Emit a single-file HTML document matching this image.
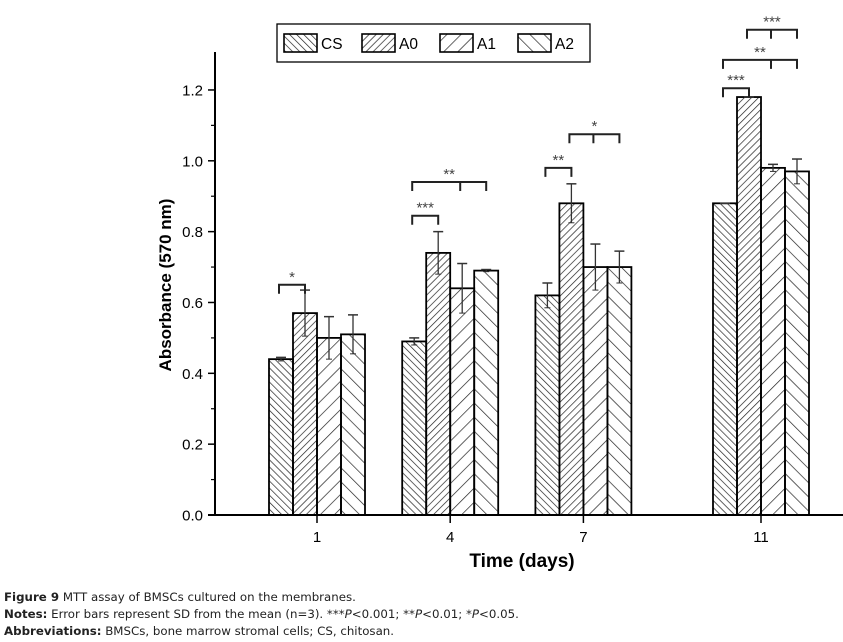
<!DOCTYPE html>
<html><head><meta charset="utf-8"><style>
body{margin:0;background:#fff;}
svg{display:block;}
svg text{font-family:"Liberation Sans",Arial,sans-serif;}
svg text.cap{font-family:"DejaVu Sans","Liberation Sans",sans-serif;font-size:11.8px;fill:#222;}
</style></head><body>
<svg id="chart" width="843" height="642" viewBox="0 0 843 642">
<defs>
<pattern id="pCS" patternUnits="userSpaceOnUse" width="5" height="5" patternTransform="rotate(-45)"><line x1="0" y1="0" x2="0" y2="5" stroke="#222" stroke-width="1.4"/></pattern>
<pattern id="pA0" patternUnits="userSpaceOnUse" width="5" height="5" patternTransform="rotate(45)"><line x1="0" y1="0" x2="0" y2="5" stroke="#222" stroke-width="1.4"/></pattern>
<pattern id="pA1" patternUnits="userSpaceOnUse" width="10" height="10" patternTransform="rotate(45)"><line x1="0" y1="0" x2="0" y2="10" stroke="#222" stroke-width="1.4"/></pattern>
<pattern id="pA2" patternUnits="userSpaceOnUse" width="10" height="10" patternTransform="rotate(-45)"><line x1="0" y1="0" x2="0" y2="10" stroke="#222" stroke-width="1.4"/></pattern>
</defs>
<g id="plot"></g>
<text x="522" y="567" text-anchor="middle" font-size="19" font-weight="bold">Time (days)</text>
<text transform="translate(171,285) rotate(-90)" text-anchor="middle" font-size="17" font-weight="bold">Absorbance (570 nm)</text>
<g>
<rect x="277" y="24" width="313" height="38" fill="#fff" stroke="#000" stroke-width="1.3"/>
</g>
<text x="4" y="601" class="cap"><tspan font-weight="bold">Figure 9</tspan> MTT assay of BMSCs cultured on the membranes.</text>
<text x="4" y="618" class="cap"><tspan font-weight="bold">Notes:</tspan> Error bars represent SD from the mean (n=3). ***<tspan font-style="italic">P</tspan>&lt;0.001; **<tspan font-style="italic">P</tspan>&lt;0.01; *<tspan font-style="italic">P</tspan>&lt;0.05.</text>
<text x="4" y="635" class="cap"><tspan font-weight="bold">Abbreviations:</tspan> BMSCs, bone marrow stromal cells; CS, chitosan.</text>
</svg>
<script>
const days=[1,4,7,11];
const series=["CS","A0","A1","A2"];
const valCS=[0.44,0.49,0.62,0.88];
const valA0=[0.57,0.74,0.88,1.18];
const valA1=[0.50,0.64,0.70,0.98];
const valA2=[0.51,0.69,0.70,0.97];
const errCS=[0.005,0.01,0.035,0.0];
const errA0=[0.065,0.06,0.055,0.0];
const errA1=[0.06,0.07,0.065,0.01];
const errA2=[0.055,0.003,0.045,0.035];
const yTicks=[0.0,0.2,0.4,0.6,0.8,1.0,1.2];
const yTickLabels=["0.0","0.2","0.4","0.6","0.8","1.0","1.2"];
// significance: [dayIndex, fromSeries, toSeries, midSeries(-1 none), level, label]
const sigs=[[0,0,1,-1,0.65,"*"],[1,0,1,-1,0.845,"***"],[1,0,3,2,0.94,"**"],[2,0,1,-1,0.98,"**"],[2,1,3,2,1.075,"*"],[3,0,1,-1,1.205,"***"],[3,0,3,2,1.285,"**"],[3,1,3,2,1.37,"***"]];
const vals=[valCS,valA0,valA1,valA2], errs=[errCS,errA0,errA1,errA2];
const NS="http://www.w3.org/2000/svg";
const g=document.getElementById('plot');
const y=v=>515-v*354.2;
const x=d=>317+(d-1)*44.4;
const BW=24;
const bx=(di,si)=>x(days[di])-2*BW+si*BW;
function mk(t,a,p){const e=document.createElementNS(NS,t);for(const k in a)e.setAttribute(k,a[k]);(p||g).appendChild(e);return e;}
let ax=mk('line',{x1:215,y1:52,x2:215,y2:515,stroke:'#000','stroke-width':2});


let xa=mk('line',{x1:208,y1:515,x2:843,y2:515,stroke:'#000','stroke-width':2});


yTicks.forEach((t,i)=>{
 mk('line',{x1:208,y1:y(t),x2:215,y2:y(t),stroke:'#000','stroke-width':1.5});
 if(i<yTicks.length-1) mk('line',{x1:211,y1:y(t+0.1),x2:215,y2:y(t+0.1),stroke:'#000','stroke-width':1.2});
 const tx=mk('text',{x:203,y:y(t)+5.5,'text-anchor':'end','font-size':15});
 tx.textContent=yTickLabels[i];
 
 
});
days.forEach(d=>{
 mk('line',{x1:x(d),y1:515,x2:x(d),y2:523,stroke:'#000','stroke-width':1.5});
 const tx=mk('text',{x:x(d),y:542,'text-anchor':'middle','font-size':15});
 tx.textContent=d;
 
 
});
days.forEach((d,di)=>{
 series.forEach((s,si)=>{
  const v=vals[si][di],e=errs[si][di],X=bx(di,si);
  const r=mk('rect',{x:X,y:y(v),width:BW,height:515-y(v),fill:'url(#p'+s+')',stroke:'#000','stroke-width':1.8});
  
  
  const cx=X+BW/2;
  mk('line',{x1:cx,y1:y(v+e),x2:cx,y2:y(v-e),stroke:'#333','stroke-width':1.3});
  mk('line',{x1:cx-5,y1:y(v+e),x2:cx+5,y2:y(v+e),stroke:'#333','stroke-width':1.5});
  mk('line',{x1:cx-3,y1:y(v-e),x2:cx+3,y2:y(v-e),stroke:'#333','stroke-width':1});
 });
});
sigs.forEach(s=>{
 const [di,a,b,m,lv,lab]=s;
 const x1=bx(di,a)+BW/2-2,x2=bx(di,b)+BW/2,Y=y(lv);
 const p=mk('path',{d:`M${x1},${Y+9}V${Y}H${x2}V${Y+9}`+(m>=0?`M${bx(di,m)+BW/2-2},${Y}V${Y+9}`:''),fill:'none',stroke:'#222','stroke-width':2});
 
 
 const t=mk('text',{x:(x1+x2)/2,y:Y-3,'text-anchor':'middle','font-size':15,fill:'#444'});
 t.textContent=lab;
 
 
});
const svg=document.getElementById('chart');
const lx=[284,362,440,518];
series.forEach((s,i)=>{
 const r=mk('rect',{x:lx[i],y:34,width:33,height:18,fill:'url(#p'+s+')',stroke:'#000','stroke-width':1.6},svg);
 
 
 const t=mk('text',{x:lx[i]+37,y:49,'font-size':15.5},svg);
 t.textContent=s;
 
 
});
</script>
</body></html>
